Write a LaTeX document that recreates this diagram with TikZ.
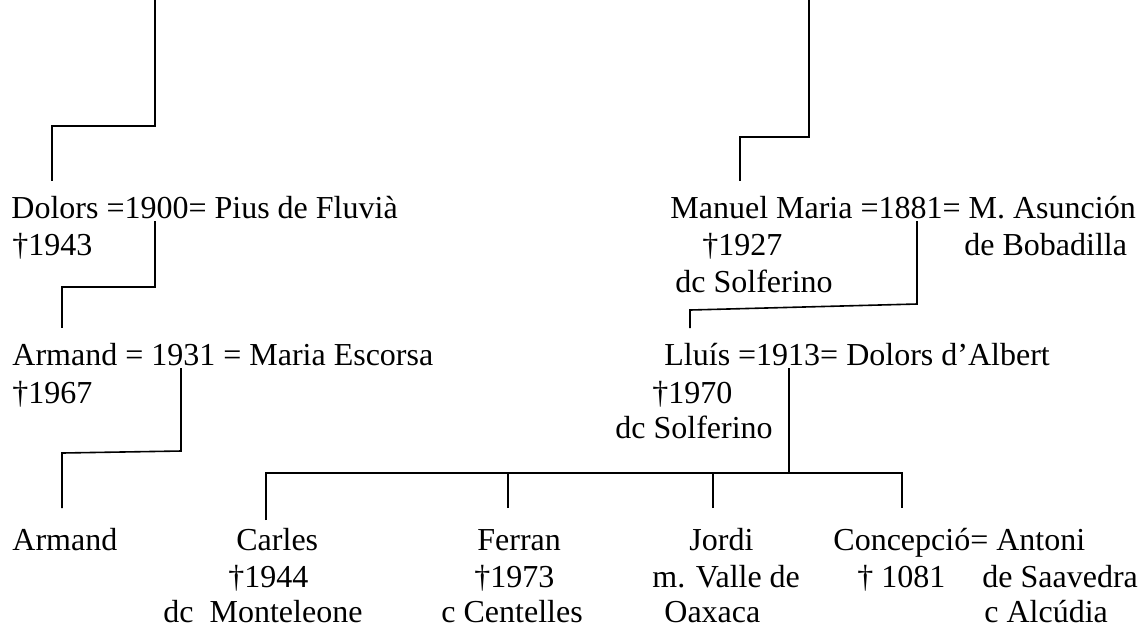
\documentclass[tikz,border=0pt]{standalone}
\usepackage{fontspec}
\setmainfont{Liberation Serif}
\usepackage{tikz}
\usetikzlibrary{calc}

\tikzset{
  txt/.style={anchor=base west, inner sep=0pt, font=\fontsize{16}{19}\selectfont},
  link/.style={line width=0.8pt}
}

\begin{document}
\begin{tikzpicture}[x=0.5pt, y=-0.5pt]
    \useasboundingbox (0,0) rectangle (1145,629);
    % people
    \node[txt] (dolors) at (11,218) {Dolors =1900= Pius de Fluvià};
    \node[txt] (dolorsd) at (12,255) {†1943};
    \node[txt] (manuel) at (670,218) {Manuel Maria =1881= M. Asunción};
    \node[txt] (manueld) at (702,255) {†1927};
    \node[txt] (asuncion) at (964,255) {de Bobadilla};
    \node[txt] (manuelt) at (675,292) {dc Solferino};
    \node[txt] (armand) at (12,365) {Armand = 1931 = Maria Escorsa};
    \node[txt] (armandd) at (12,403) {†1967};
    \node[txt] (lluis) at (664,365) {Lluís =1913= Dolors d’Albert};
    \node[txt] (lluisd) at (652,403) {†1970};
    \node[txt] (lluist) at (615,438) {dc Solferino};
    \node[txt] (armandj) at (12,550) {Armand};
    \node[txt] (carles) at (236,550) {Carles};
    \node[txt] (carlesd) at (228,587) {†1944};
    \node[txt] (carlest) at (163,622) {dc\ \ Monteleone};
    \node[txt] (ferran) at (477,550) {Ferran};
    \node[txt] (ferrand) at (474,587) {†1973};
    \node[txt] (ferrant) at (441,622) {c Centelles};
    \node[txt] (jordi) at (689,550) {Jordi};
    \node[txt] (jordit) at (652,587) {m. Valle de};
    \node[txt] (jordit2) at (664,622) {Oaxaca};
    \node[txt] (concepcio) at (833,550) {Concepció= Antoni};
    \node[txt] (concepciod) at (857,587) {† 1081};
    \node[txt] (antoni) at (982,587) {de Saavedra};
    \node[txt] (antonit) at (984,622) {c Alcúdia};
    % line ends
    \coordinate (top-l) at (155,0);
    \coordinate (top-r) at (809,0);
    \coordinate (dolors-up) at (52,181);
    \coordinate (manuel-up) at (740,181);
    \coordinate (m1900) at (155,221);
    \coordinate (m1881) at (917,221);
    \coordinate (armand-up) at (62,328);
    \coordinate (lluis-up) at (690,328);
    \coordinate (m1931) at (181,368);
    \coordinate (m1913) at (789,368);
    \coordinate (armandj-up) at (62,508);
    \coordinate (carles-up) at (266,520);
    \coordinate (ferran-up) at (508,508);
    \coordinate (jordi-up) at (713,508);
    \coordinate (concepcio-up) at (902,508);
    % descent lines
    \draw[link] (top-l) -- ++(0,126) -| (dolors-up);
    \draw[link] (top-r) -- ++(0,137) -| (manuel-up);
    \draw[link] (m1900) -- ++(0,66) -| (armand-up);
    \draw[link] (m1881) -- ++(0,83) -- ($(lluis-up)+(0,-18)$) -- (lluis-up);
    \draw[link] (m1931) -- ++(0,83) -- ($(armandj-up)+(0,-55)$) -- (armandj-up);
    \draw[link] (m1913) -- ++(0,105) coordinate (bus);
    \draw[link] (carles-up) |- (concepcio-up |- bus) -- (concepcio-up);
    \foreach \c in {ferran-up,jordi-up}
        \draw[link] (\c) -- (\c |- bus);
\end{tikzpicture}
\end{document}
